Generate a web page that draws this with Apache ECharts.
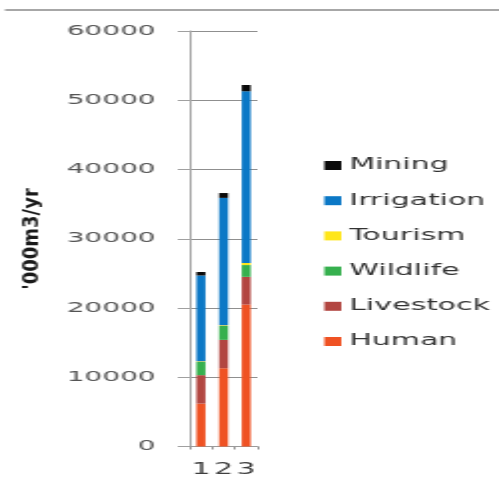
<!DOCTYPE html>
<html>
<head>
<meta charset="utf-8">
<script src="https://cdn.jsdelivr.net/npm/echarts@6/dist/echarts.min.js"></script>
<style>
  html, body { margin: 0; padding: 0; background: #ffffff; overflow: hidden; }
  /* the chart is drawn narrow and widened, giving the broad lettering of the original */
  #chart { width: 250px; height: 490px; transform: scaleX(1.996); transform-origin: 0 0; }
</style>
</head>
<body>
<div id="chart"></div>
<script>
// Water demand by sector, '000 m3 per year
const categories = ['1', '2', '3'];
const human      = [6200, 11300, 20500];
const livestock  = [4100, 4100, 4000];
const wildlife   = [1900, 2000, 1700];
const tourism    = [100, 100, 300];
const irrigation = [12400, 18400, 24800];
const mining     = [500, 700, 900];

const yTicks = [0, 10000, 20000, 30000, 40000, 50000, 60000];
const legendOrder = ['Mining', 'Irrigation', 'Tourism', 'Wildlife', 'Livestock', 'Human'];

const seriesDefs = [
  { name: 'Human',      data: human,      color: '#ef5223' },
  { name: 'Livestock',  data: livestock,  color: '#b24641' },
  { name: 'Wildlife',   data: wildlife,   color: '#36b04e' },
  { name: 'Tourism',    data: tourism,    color: '#ffe619' },
  { name: 'Irrigation', data: irrigation, color: '#0b78c6' },
  { name: 'Mining',     data: mining,     color: '#0a0a0a' }
];

const chart = echarts.init(document.getElementById('chart'), null, { renderer: 'canvas' });

chart.setOption({
  animation: false,
  backgroundColor: '#ffffff',
  textStyle: { fontFamily: 'DejaVu Sans' },
  grid: { left: 95, right: 121, top: 31, bottom: 43.5, containLabel: false },
  legend: {
    orient: 'vertical',
    left: 157.5,
    top: 153,
    data: legendOrder,
    itemWidth: 8.5,
    itemHeight: 9,
    itemGap: 20.2,
    icon: 'rect',
    selectedMode: false,
    textStyle: { fontFamily: 'DejaVu Sans', fontSize: 15, color: '#333333', padding: [0, 0, 0, -1] }
  },
  xAxis: {
    type: 'category',
    data: categories,
    axisLine: { lineStyle: { color: '#9a9a9a', width: 1 } },
    axisTick: { show: true, length: 3, lineStyle: { color: '#9a9a9a' } },
    axisLabel: { interval: 0, fontFamily: 'DejaVu Sans', fontSize: 15, color: '#3f3f3f', margin: 16 }
  },
  yAxis: {
    type: 'value',
    min: yTicks[0],
    max: yTicks[yTicks.length - 1],
    interval: yTicks[1] - yTicks[0],
    axisLine: { show: true, lineStyle: { color: '#a8a8a8', width: 1 } },
    axisTick: { show: true, length: 6, lineStyle: { color: '#a0a0a0' } },
    splitLine: { show: true, lineStyle: { color: '#8f8f8f', width: 1 } },
    axisLabel: {
      fontFamily: 'DejaVu Sans', fontSize: 14, color: '#555555', margin: 17,
      formatter: v => String(v)
    }
  },
  series: seriesDefs.map(s => ({
    name: s.name,
    type: 'bar',
    stack: 'demand',
    barWidth: 4.5,
    data: s.data,
    itemStyle: { color: s.color },
    emphasis: { disabled: true }
  })),
  graphic: [
    {
      type: 'line',
      shape: { x1: 2.5, y1: 10, x2: 250, y2: 10 },
      style: { stroke: '#8a8a8a', lineWidth: 1.6 },
      silent: true
    },
    {
      type: 'text',
      x: 16.5,
      y: 239,
      rotation: Math.PI / 2,
      scaleX: 1.8,
      style: {
        text: "'000m3/yr",
        font: 'bold 10px "DejaVu Sans"',
        fill: '#1a1a1a',
        align: 'center',
        verticalAlign: 'middle'
      },
      silent: true
    }
  ]
});
</script>
</body>
</html>
